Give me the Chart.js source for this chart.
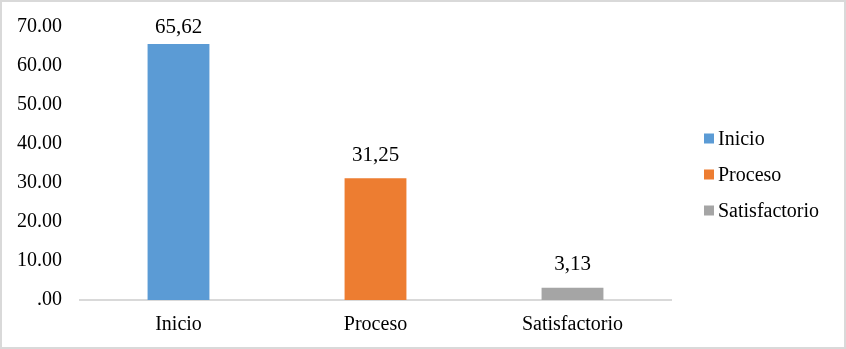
<!DOCTYPE html>
<html>
<head>
<meta charset="utf-8">
<script src="https://cdn.jsdelivr.net/npm/chart.js@4"></script>
<style>
  html, body { margin: 0; padding: 0; background: #fff; }
  #wrap { width: 846px; height: 349px; box-sizing: border-box; border: 2px solid #d9d9d9; position: relative; }
</style>
</head>
<body>
<div id="wrap"><canvas id="levels"></canvas></div>
<script>
const categories = ['Inicio', 'Proceso', 'Satisfactorio'];
const values = [65.62, 31.25, 3.13];
const barColors = ['#5b9bd5', '#ed7d31', '#a5a5a5'];
const yMin = 0, yMax = 70, yStep = 10;

const FONT = '"Liberation Serif", "Times New Roman", serif';
const FSIZE = 20;

// one dataset per level so the legend lists each one
const datasets = categories.map((name, i) => ({
  label: name,
  data: values.map((v, j) => (j === i ? v : null)),
  backgroundColor: barColors[i],
  borderWidth: 0,
  categoryPercentage: 1,
  barPercentage: 0.314
}));

const fmtComma = v => v.toFixed(2).replace('.', ',');

// value labels above bars (kept inside the plot top like Excel does)
const valueLabels = {
  id: 'valueLabels',
  afterDatasetsDraw(chart) {
    const c = chart.ctx;
    const top = chart.chartArea.top;
    c.save();
    c.font = '21px ' + FONT;
    c.fillStyle = '#000';
    c.textAlign = 'center';
    c.textBaseline = 'middle';
    chart.data.datasets.forEach((ds, i) => {
      const meta = chart.getDatasetMeta(i);
      meta.data.forEach((bar, j) => {
        if (ds.data[j] == null) return;
        c.fillText(fmtComma(ds.data[j]), bar.x, Math.max(bar.y - 23, top));
      });
    });
    c.restore();
  }
};

// legend on the right, Excel-like
const sideLegend = {
  id: 'sideLegend',
  afterDraw(chart) {
    const c = chart.ctx;
    const area = chart.chartArea;
    const n = chart.data.datasets.length;
    const gap = 36;
    const midY = chart.height / 2;
    const x0 = area.right + 33;
    c.save();
    c.font = FSIZE + 'px ' + FONT;
    c.textBaseline = 'middle';
    chart.data.datasets.forEach((ds, i) => {
      const y = midY + (i - (n - 1) / 2) * gap;
      c.fillStyle = ds.backgroundColor;
      c.fillRect(x0, y - 5, 10, 10);
      c.fillStyle = '#000';
      c.fillText(ds.label, x0 + 14, y + 1);
    });
    c.restore();
  }
};

new Chart(document.getElementById('levels'), {
  type: 'bar',
  data: { labels: categories, datasets },
  plugins: [valueLabels, sideLegend],
  options: {
    responsive: true,
    maintainAspectRatio: false,
    animation: false,
    skipNull: true,
    layout: { autoPadding: false, padding: { left: -3, top: 25, right: 173, bottom: -3 } },
    plugins: {
      legend: { display: false },
      tooltip: { enabled: false }
    },
    scales: {
      x: {
        grid: { display: false, drawTicks: false },
        border: { display: true, color: '#d9d9d9', width: 2 },
        ticks: { color: '#000', padding: 13, font: { family: FONT, size: FSIZE } }
      },
      y: {
        min: yMin, max: yMax,
        grid: { display: false, drawTicks: false },
        border: { display: false },
        ticks: {
          stepSize: yStep,
          color: '#000',
          padding: 18,
          font: { family: FONT, size: FSIZE },
          callback: v => (v === 0 ? '.00' : v.toFixed(2))
        },
        afterFit(scale) { scale.paddingTop = 0; scale.paddingBottom = 0; }
      }
    }
  }
});
</script>
</body>
</html>
